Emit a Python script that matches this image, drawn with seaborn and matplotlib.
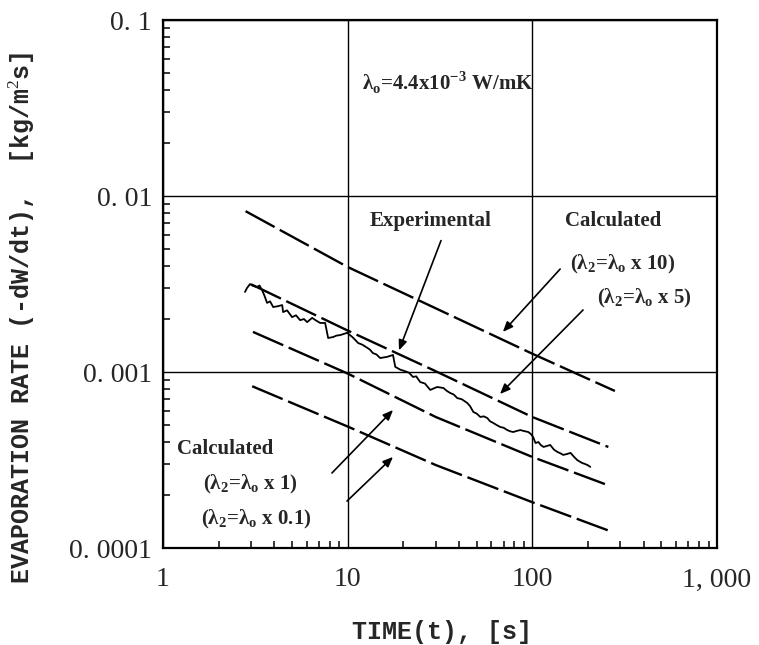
import numpy as np
import pandas as pd
import matplotlib
matplotlib.use("Agg")
import matplotlib.pyplot as plt
import matplotlib.ticker as mticker
import seaborn as sns

# ---------------- data ----------------
calc_x10_t = [2.8, 10, 30, 100, 280]
calc_x10_y = [0.0082, 0.00395, 0.0023, 0.00127, 0.00078]

calc_x5_t = [3.0, 10, 30, 100, 258]
calc_x5_y = [0.00315, 0.00172, 0.00101, 0.000555, 0.000375]

calc_x1_t = [3.07, 10, 30, 100, 255]
calc_x1_y = [0.00169, 0.00098, 0.000555, 0.000329, 0.000228]

calc_x01_t = [3.04, 10, 30, 100, 262]
calc_x01_y = [0.00083, 0.00049, 0.000296, 0.000182, 0.000125]

exp_t = [2.78, 2.85, 2.96, 3.08, 3.23, 3.33, 3.44, 3.55, 3.66, 3.80, 3.95, 4.15,
         4.42, 4.47, 4.70, 5.00, 5.25, 5.53, 5.80, 6.03, 6.42, 6.75, 7.10, 7.55,
         7.84, 8.34, 8.70, 9.10, 9.94, 10.6, 11.0, 11.4, 12.0, 12.8, 13.2, 13.7,
         14.3, 15.0, 16.4, 17.6, 18.1, 19.3, 20.5, 21.5, 22.6, 23.5, 24.7, 26.2,
         28.0, 30.5, 33.0, 34.5, 35.9, 37.5, 39.2, 41.5, 44.4, 46.0, 47.9, 50.0,
         52.3, 54.5, 57.0, 59.0, 61.5, 64.0, 67.1, 70.0, 73.1, 76.0, 78.9, 82.0,
         86.1, 90.0, 95.1, 98.0, 101, 104, 108, 111, 115, 120, 125, 131, 137, 142,
         147, 154, 161, 168, 175, 185, 193, 199, 206]
exp_y = [0.00285, 0.00300, 0.00316, 0.00308, 0.00304, 0.00310, 0.00292, 0.00270,
         0.00247, 0.00252, 0.00234, 0.00236, 0.00240, 0.00219, 0.00224, 0.00205,
         0.00210, 0.00197, 0.00200, 0.00192, 0.00203, 0.00196, 0.00190, 0.00190,
         0.00156, 0.00158, 0.00161, 0.00162, 0.00167, 0.00158, 0.00152, 0.00146,
         0.00143, 0.00137, 0.00134, 0.00128, 0.00126, 0.00120, 0.00122, 0.00125,
         0.00107, 0.00103, 0.00101, 0.000990, 0.000937, 0.000945, 0.000877,
         0.000860, 0.000791, 0.000822, 0.000811, 0.000780, 0.000760, 0.000745,
         0.000711, 0.000700, 0.000667, 0.000640, 0.000593, 0.000580, 0.000555,
         0.000560, 0.000548, 0.000525, 0.000513, 0.000500, 0.000487, 0.000482,
         0.000468, 0.000460, 0.000456, 0.000462, 0.000468, 0.000462, 0.000456,
         0.000445, 0.000427, 0.000395, 0.000400, 0.000385, 0.000375, 0.000380,
         0.000385, 0.000362, 0.000351, 0.000345, 0.000338, 0.000342, 0.000347,
         0.000330, 0.000316, 0.000305, 0.000300, 0.000296, 0.000289]

x_ticks = [1, 10, 100, 1000]
x_tick_labels = ["1", "10", "100", "1, 000"]
y_ticks = [0.0001, 0.001, 0.01, 0.1]
y_tick_labels = ["0. 0001", "0. 001", "0. 01", "0. 1"]

# ---------------- figure ----------------
sns.set_style("white")
plt.rcParams['font.family'] = ['Liberation Serif', 'DejaVu Serif']
plt.rcParams['mathtext.fontset'] = 'custom'
plt.rcParams['mathtext.rm'] = 'Liberation Serif'
plt.rcParams['mathtext.bf'] = 'Liberation Serif:bold'

fig = plt.figure(figsize=(7.59, 6.45), dpi=100)
ax = fig.add_axes([163 / 759, 1 - 548 / 645, (717 - 163) / 759, (548 - 20) / 645])

dash = (0, (14, 2.5))
for t, y in [(calc_x10_t, calc_x10_y), (calc_x5_t, calc_x5_y),
             (calc_x1_t, calc_x1_y), (calc_x01_t, calc_x01_y)]:
    df = pd.DataFrame({"t": t, "y": y})
    sns.lineplot(data=df, x="t", y="y", ax=ax, color="black", lw=1.7,
                 linestyle=dash, sort=False)

df_exp = pd.DataFrame({"t": exp_t, "y": exp_y})
sns.lineplot(data=df_exp, x="t", y="y", ax=ax, color="black", lw=1.3, sort=False)

ax.set_xscale("log")
ax.set_yscale("log")
ax.set_xlim(1, 1000)
ax.set_ylim(0.0001, 0.1)

ax.xaxis.set_major_locator(mticker.FixedLocator(x_ticks))
ax.xaxis.set_major_formatter(mticker.FixedFormatter(x_tick_labels))
ax.yaxis.set_major_locator(mticker.FixedLocator(y_ticks))
ax.yaxis.set_major_formatter(mticker.FixedFormatter(y_tick_labels))
ax.xaxis.set_minor_locator(mticker.LogLocator(base=10, subs=np.arange(2, 10)))
ax.yaxis.set_minor_locator(mticker.LogLocator(base=10, subs=np.arange(2, 10)))
ax.xaxis.set_minor_formatter(mticker.NullFormatter())
ax.yaxis.set_minor_formatter(mticker.NullFormatter())

ax.tick_params(which="both", bottom=True, left=True, top=False, right=False)
ax.tick_params(which="major", direction="in", length=0, labelsize=20, pad=8)
ax.tick_params(which="minor", direction="in", length=5, width=1.1, color="black")
ax.tick_params(axis="x", which="major", pad=14)

ax.grid(True, which="major", color="black", lw=1.0)
for s in ax.spines.values():
    s.set_color("black")
    s.set_linewidth(1.6)

ax.set_xlabel("")
ax.set_ylabel("")

mono = ['Liberation Mono', 'DejaVu Sans Mono']
fig.text(442 / 759, 1 - 632 / 645, "TIME(t), [s]", family=mono, fontsize=18,
         ha="center", va="center", fontweight="bold")
fig.text(22 / 759, 1 - 318 / 645, "EVAPORATION RATE (-dW/dt),  [kg/m$^2$s]",
         family=mono, fontsize=18, rotation=90, ha="center", va="center",
         fontweight="bold")

# ---------------- annotations ----------------
def px(xp, yp):
    # figure-fraction coordinates from pixel positions
    return (xp / 759, 1 - yp / 645)

tkw = dict(fontsize=15, fontweight="bold", va="center", ha="left")
lam = r"$\mathbf{\lambda}$"
fig.text(*px(362, 83), "λ$_\\mathbf{o}$=4.4x10$^\\mathbf{-3}$ W/mK", **tkw)
fig.text(*px(370, 221), "Experimental", **tkw)
fig.text(*px(565, 221), "Calculated", **tkw)
fig.text(*px(570, 264), "(λ$_\\mathbf{2}$=λ$_\\mathbf{o}$ x 10)", **tkw)
fig.text(*px(597, 298), "(λ$_\\mathbf{2}$=λ$_\\mathbf{o}$ x 5)", **tkw)
fig.text(*px(177, 449), "Calculated", **tkw)
fig.text(*px(203, 484), "(λ$_\\mathbf{2}$=λ$_\\mathbf{o}$ x 1)", **tkw)
fig.text(*px(201, 519), "(λ$_\\mathbf{2}$=λ$_\\mathbf{o}$ x 0.1)", **tkw)

akw = dict(arrowstyle="-|>,head_length=0.6,head_width=0.25", color="black", lw=1.2)
arrows = [((442, 238), (398, 353)),
          ((562, 267), (501, 334)),
          ((585, 308), (498, 396)),
          ((330, 475), (395, 408)),
          ((345, 503), (395, 455))]
for (x0, y0), (x1, y1) in arrows:
    ax.annotate("", xy=px(x1, y1), xycoords="figure fraction",
                xytext=px(x0, y0), textcoords="figure fraction",
                arrowprops=akw)

fig.savefig("out.png", dpi=100)
